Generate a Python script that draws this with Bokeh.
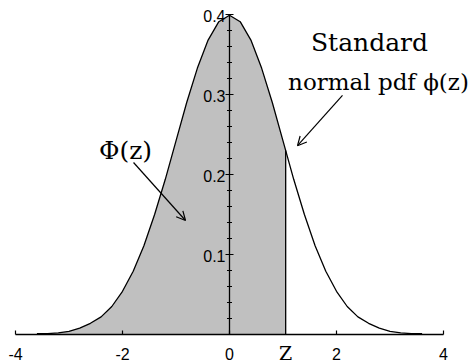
from bokeh.plotting import figure
from bokeh.models import Range1d, FixedTicker, Arrow, OpenHead, Label, LinearAxis
from bokeh.embed import file_html
from bokeh.resources import INLINE
import numpy as np

# Standard normal density sampled along z
z_vals = [-3.6, -3.4, -3.2, -3.0, -2.8, -2.6, -2.4, -2.2, -2.0, -1.8, -1.6, -1.4,
          -1.2, -1.0, -0.8, -0.6, -0.4, -0.2, 0.0, 0.2, 0.4, 0.6, 0.8, 1.0,
          1.2, 1.4, 1.6, 1.8, 2.0, 2.2, 2.4, 2.6, 2.8, 3.0, 3.2, 3.4, 3.6]
pdf_vals = [0.001, 0.001, 0.002, 0.004, 0.008, 0.014, 0.022, 0.035, 0.054, 0.079, 0.111, 0.150,
            0.194, 0.242, 0.290, 0.333, 0.368, 0.391, 0.399, 0.391, 0.368, 0.333, 0.290, 0.242,
            0.194, 0.150, 0.111, 0.079, 0.054, 0.035, 0.022, 0.014, 0.008, 0.004, 0.002, 0.001, 0.001]

# Cut-off point z and the density there
z_cut = 1.05
pdf_at_cut = 0.230

x_ticks = [-4, -2, 0, 2, 4]
x_tick_labels = ["-4", "-2", "0", "2", "4"]
y_major = [0.1, 0.2, 0.3, 0.4]
y_major_labels = ["0.1", "0.2", "0.3", "0.4"]
y_minor = [0.02, 0.04, 0.06, 0.08, 0.12, 0.14, 0.16, 0.18,
           0.22, 0.24, 0.26, 0.28, 0.32, 0.34, 0.36, 0.38]

p = figure(width=473, height=363, output_backend="svg", toolbar_location=None,
           x_range=Range1d(-4.2804, 4.5607), y_range=Range1d(-0.03625, 0.4175),
           x_axis_location=None, y_axis_location=None, min_border=0)
p.outline_line_color = None
p.xgrid.visible = False
p.ygrid.visible = False
p.background_fill_color = "white"
p.border_fill_color = "white"

# Shaded area under the curve up to z
zx = np.array(z_vals)
zy = np.array(pdf_vals)
mask = zx < z_cut
fill_x = list(zx[mask]) + [z_cut]
fill_y = list(zy[mask]) + [pdf_at_cut]
p.varea(x=fill_x, y1=[0] * len(fill_x), y2=fill_y, fill_color="#c0c0c0")

# Density curve
p.line(z_vals, pdf_vals, line_color="black", line_width=1.3)

# Vertical line at z
p.segment(x0=[z_cut], y0=[0], x1=[z_cut], y1=[pdf_at_cut], line_color="black", line_width=1.3)

# Vertical axis drawn through x = 0
p.segment(x0=[0], y0=[0], x1=[0], y1=[0.4], line_color="black", line_width=1.3)
p.scatter(x=[0] * len(y_major), y=y_major, marker="dash", size=8, line_color="black", line_width=1.2)
p.scatter(x=[0] * len(y_minor), y=y_minor, marker="dash", size=5, line_color="black", line_width=1.2)
for yv, lab in zip(y_major, y_major_labels):
    p.add_layout(Label(x=0, y=yv, text=lab, text_align="right", text_baseline="middle",
                       x_offset=-4, y_offset=-1, text_font="Liberation Sans",
                       text_font_size="16px", text_color="black"))

# Horizontal axis through y = 0
xa = LinearAxis(fixed_location=0, bounds=(-4, 4))
xa.ticker = FixedTicker(ticks=x_ticks)
xa.major_label_overrides = {t: s for t, s in zip(x_ticks, x_tick_labels)}
xa.minor_tick_line_color = None
xa.major_tick_in = 4
xa.major_tick_out = 0
xa.axis_line_width = 1.3
xa.major_tick_line_width = 1.2
xa.major_label_standoff = 13
xa.major_label_text_font = "Liberation Sans"
xa.major_label_text_font_size = "16px"
xa.major_label_text_color = "black"
p.add_layout(xa, "below")

serif = "DejaVu Serif"

# Label for z on the horizontal axis
p.add_layout(Label(x=z_cut, y=0, text="Z", text_align="center", text_baseline="top",
                   y_offset=-7, text_font=serif, text_font_size="19px", text_color="black"))

# Annotations
p.add_layout(Label(x=-1.944, y=0.230, text="Φ(z)", text_align="center", text_baseline="middle",
                   text_font=serif, text_font_size="25px", text_color="black"))
p.add_layout(Label(x=2.617, y=0.365, text="Standard", text_align="center", text_baseline="middle",
                   text_font=serif, text_font_size="25px", text_color="black"))
p.add_layout(Label(x=2.785, y=0.316, text="normal pdf ϕ(z)", text_align="center",
                   text_baseline="middle", text_font=serif, text_font_size="23px",
                   text_color="black"))

p.add_layout(Arrow(x_start=-1.794, y_start=0.215, x_end=-0.822, y_end=0.1425,
                   line_color="black", line_width=1.2,
                   end=OpenHead(size=9, line_color="black", line_width=1.2)))
p.add_layout(Arrow(x_start=2.112, y_start=0.299, x_end=1.271, y_end=0.236,
                   line_color="black", line_width=1.2,
                   end=OpenHead(size=9, line_color="black", line_width=1.2)))

open("out.html", "w").write(file_html(p, INLINE))
